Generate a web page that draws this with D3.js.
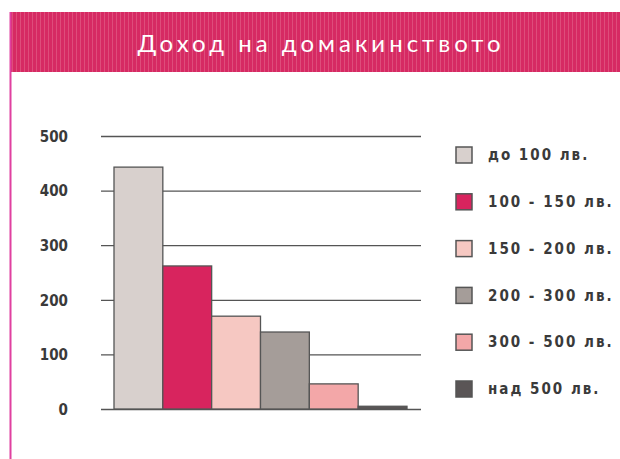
<!DOCTYPE html>
<html><head><meta charset="utf-8">
<script src="https://cdn.jsdelivr.net/npm/d3@7/dist/d3.min.js"></script>
<style>body{margin:0;background:#fff}svg{display:block}</style>
</head><body>
<script>
const title = "Доход на домакинството";
const categories = ["до 100 лв.", "100 - 150 лв.", "150 - 200 лв.", "200 - 300 лв.", "300 - 500 лв.", "над 500 лв."];
const values = [443, 262, 170, 141, 46, 5];
const colors = ["#d8d0cd", "#d8245e", "#f6c8c2", "#a59d99", "#f3a7a8", "#5a5556"];
const yTicks = [0, 100, 200, 300, 400, 500];

const W = 620, H = 459;
const svg = d3.select("body").append("svg").attr("width", W).attr("height", H);

const defs = svg.append("defs");
const pat = defs.append("pattern").attr("id","hdr").attr("width",4).attr("height",4).attr("patternUnits","userSpaceOnUse");
pat.append("rect").attr("width",4).attr("height",4).attr("fill","#d62a63");
pat.append("rect").attr("x",0).attr("y",0).attr("width",1).attr("height",4).attr("fill","#e2648a").attr("opacity",0.6);

svg.append("rect").attr("x",10).attr("y",12).attr("width",W-10).attr("height",60).attr("fill","url(#hdr)");
svg.append("line").attr("x1",10.5).attr("x2",10.5).attr("y1",12).attr("y2",H).attr("stroke","#e040a0").attr("stroke-width",2);

svg.append("text").attr("x",321).attr("y",52).attr("text-anchor","middle")
  .attr("font-family","Lato, 'Open Sans', sans-serif").attr("font-size",24).attr("font-weight",400).attr("letter-spacing","4")
  .attr("fill","#fff").text(title);

const y = d3.scaleLinear().domain([0,500]).range([409,136]);
const x = d3.scaleBand().domain(categories).range([114,407]).padding(0);

const grid = svg.append("g").attr("transform","translate(101,0)")
  .call(d3.axisLeft(y).tickValues(yTicks).tickSize(-320).tickFormat(""));
grid.select(".domain").remove();
grid.selectAll(".tick line").attr("stroke","#555").attr("stroke-width",1.3);

const ax = svg.append("g").attr("transform","translate(68,0)")
  .call(d3.axisLeft(y).tickValues(yTicks).tickSize(0).tickPadding(0));
ax.select(".domain").remove();
ax.selectAll("text").attr("font-family","'Liberation Sans Narrow', 'DejaVu Sans Condensed', sans-serif")
  .attr("font-size",15).attr("font-weight",600).attr("fill","#3a3a3a").attr("dy","0.35em").attr("text-anchor","end");

svg.append("g").selectAll("rect").data(values).join("rect")
  .attr("x",(d,i)=>x(categories[i]))
  .attr("y",d=>y(d))
  .attr("width",x.bandwidth())
  .attr("height",d=>y(0)-y(d))
  .attr("fill",(d,i)=>colors[i])
  .attr("stroke","#555").attr("stroke-width",1.3);

const ly = d3.scalePoint().domain(categories).range([155,389]);
const lg = svg.append("g");
lg.selectAll("rect").data(categories).join("rect")
  .attr("x",456).attr("y",d=>ly(d)-8).attr("width",16).attr("height",16)
  .attr("fill",(d,i)=>colors[i]).attr("stroke","#555").attr("stroke-width",1.5);
lg.selectAll("text").data(categories).join("text")
  .attr("x",488).attr("y",d=>ly(d)).attr("dy","0.35em")
  .attr("font-family","'Liberation Sans Narrow', 'DejaVu Sans Condensed', sans-serif")
  .attr("font-size",15).attr("font-weight",600).attr("fill","#3a3a3a").attr("letter-spacing","2")
  .text(d=>d);
</script>
</body></html>
